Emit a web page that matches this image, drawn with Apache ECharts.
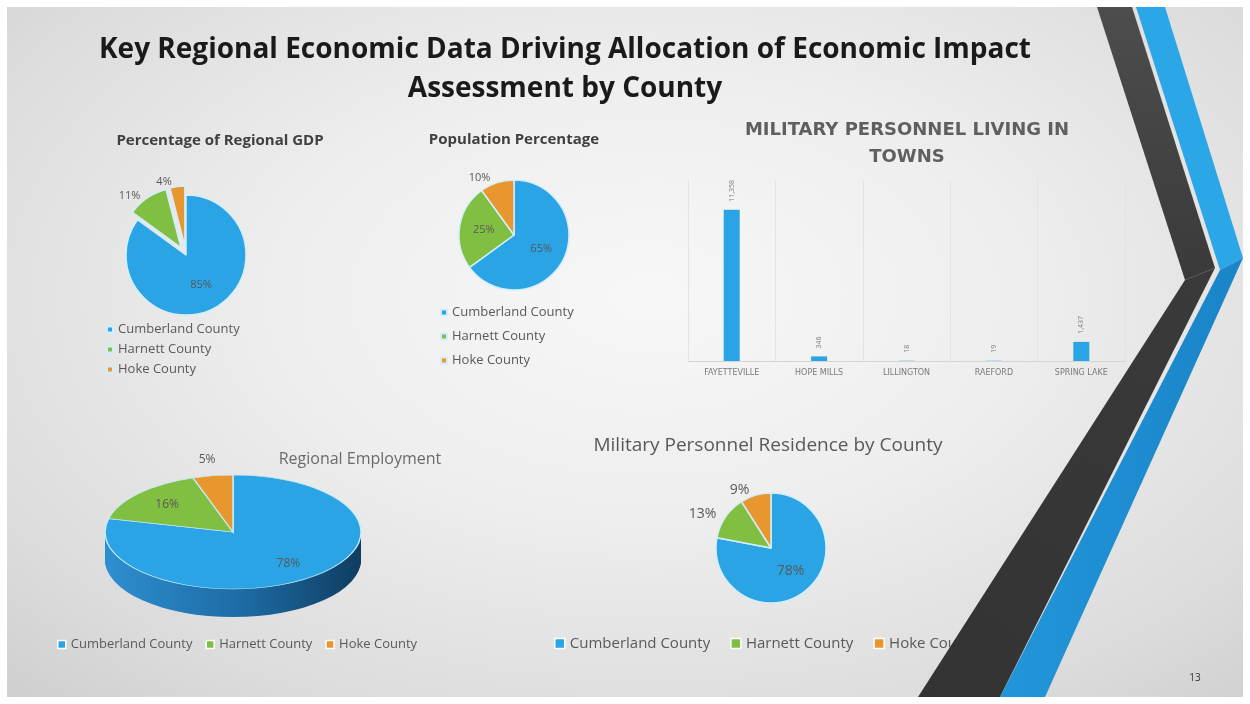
<!DOCTYPE html>
<html>
<head>
<meta charset="utf-8">
<script src="https://cdn.jsdelivr.net/npm/echarts@6/dist/echarts.min.js"></script>
<style>
  html, body { margin:0; padding:0; background:#ffffff; }
  #slide { position:absolute; left:7px; top:7px; width:1236px; height:690px;
    background: radial-gradient(ellipse 75% 80% at 52% 42%, #f7f7f7 0%, #eeeeee 40%, #dcdcdc 80%, #cfcfcf 100%); }
  #chart { position:absolute; left:0; top:0; width:1250px; height:704px; }
</style>
</head>
<body>
<div id="slide"></div>
<div id="chart"></div>
<script>
// ---------- DATA ----------
const counties = ['Cumberland County', 'Harnett County', 'Hoke County'];
const gdpShare = [85, 11, 4];
const populationShare = [65, 25, 10];
const employmentShare = [78, 16, 5];
const militaryResidenceShare = [78, 13, 9];
const towns = ['FAYETTEVILLE', 'HOPE MILLS', 'LILLINGTON', 'RAEFORD', 'SPRING LAKE'];
const militaryInTowns = [11358, 346, 18, 19, 1437];

// ---------- STYLE ----------
const countyColors = ['#2aa4e4', '#80bf42', '#e8972f'];
const grayText = '#595959';
const labelFont = 'Open Sans';

const chart = echarts.init(document.getElementById('chart'), null, { renderer: 'canvas' });

function pieData(values, outsideFrom, selectSmall) {
  return values.map((v, i) => ({
    value: v,
    name: counties[i],
    selected: selectSmall ? i > 0 : false,
    itemStyle: { color: countyColors[i] },
    label: i >= outsideFrom ? { position: 'outside' } : { position: 'inside' }
  }));
}

function pieSeries(name, values, center, radius, outsideFrom, selectSmall, fontSize) {
  return {
    type: 'pie',
    name: name,
    center: center,
    radius: radius,
    startAngle: 90,
    clockwise: true,
    animation: false,
    selectedMode: selectSmall ? 'multiple' : false,
    selectedOffset: 9,
    emphasis: { scale: false },
    itemStyle: { borderColor: '#d3eefb', borderWidth: 1.5 },
    label: { show: true, formatter: '{c}%', fontFamily: labelFont, fontSize: fontSize, color: grayText },
    labelLine: { show: false, length: 5, length2: 0 },
    data: pieData(values, outsideFrom, selectSmall)
  };
}

// 3D elliptical pie (Regional Employment)
const emp = { cx: 233, cy: 532, r: 128, sy: 57 / 128, depth: 28 };
function empAngles(i) {
  const total = employmentShare.reduce((a, b) => a + b, 0);
  let cum = 0;
  for (let j = 0; j < i; j++) cum += employmentShare[j];
  const v = employmentShare[i];
  return [-Math.PI / 2 + 2 * Math.PI * cum / total, -Math.PI / 2 + 2 * Math.PI * (cum + v) / total];
}
function renderEmpSide(params, api) {
  const i = params.dataIndex;
  const [a0, a1] = empAngles(i);
  const sideGrad = new echarts.graphic.LinearGradient(-emp.r, 0, emp.r, 0, [
    { offset: 0, color: '#2e8fd0' }, { offset: 0.55, color: '#1d6aa3' }, { offset: 1, color: '#0f3d60' }
  ], true);
  const children = [];
  for (let d = 1; d <= emp.depth; d++) {
    children.push({
      type: 'sector',
      shape: { cx: 0, cy: d / emp.sy, r: emp.r, startAngle: a0, endAngle: a1, clockwise: true },
      style: { fill: sideGrad }
    });
  }
  return { type: 'group', x: emp.cx, y: emp.cy, scaleY: emp.sy, children: children };
}
function renderEmpTop(params, api) {
  const i = params.dataIndex;
  const v = api.value(0);
  const [a0, a1] = empAngles(i);
  const mid = (a0 + a1) / 2;
  const k = v < 10 ? 1.28 : 0.7;
  return {
    type: 'group',
    children: [
      {
        type: 'group', x: emp.cx, y: emp.cy, scaleY: emp.sy,
        children: [{
          type: 'sector',
          shape: { cx: 0, cy: 0, r: emp.r, startAngle: a0, endAngle: a1, clockwise: true },
          style: { fill: countyColors[i], stroke: '#c6ebfb', lineWidth: 1.5, strokeNoScale: true }
        }]
      },
      {
        type: 'text',
        x: emp.cx + Math.cos(mid) * emp.r * k,
        y: emp.cy + Math.sin(mid) * emp.r * emp.sy * k,
        style: { text: v + '%', fill: grayText, fontFamily: labelFont, fontSize: 12, align: 'center', verticalAlign: 'middle' }
      }
    ]
  };
}

function txt(text, x, y, size, weight, color, family) {
  return {
    type: 'text', x: x, y: y, z: 10,
    style: { text: text, fill: color, fontSize: size, fontWeight: weight, fontFamily: family, align: 'center', verticalAlign: 'middle' }
  };
}

function poly(points, fill, z) {
  return { type: 'polygon', z: z, silent: true, shape: { points: points }, style: { fill: fill } };
}

const option = {
  animation: false,
  textStyle: { fontFamily: labelFont },
  graphic: [
    txt('Key Regional Economic Data Driving Allocation of Economic Impact', 565, 50, 28, 'bold', '#1a1a1a', 'Open Sans'),
    txt('Assessment by County', 565, 89, 28, 'bold', '#1a1a1a', 'Open Sans'),
    txt('Percentage of Regional GDP', 220, 141, 15, 'bold', '#404040', 'Open Sans'),
    txt('Population Percentage', 514, 140, 15, 'bold', '#404040', 'Open Sans'),
    txt('MILITARY PERSONNEL LIVING IN', 907, 130, 18, 'bold', '#5f5f5f', 'DejaVu Sans'),
    txt('TOWNS', 907, 157, 18, 'bold', '#5f5f5f', 'DejaVu Sans'),
    txt('Regional Employment', 360, 459, 16, 'normal', '#6b6b6b', 'Open Sans'),
    txt('Military Personnel Residence by County', 768, 446, 19, 'normal', '#595959', 'Open Sans'),
    txt('13', 1195, 678, 10, 'normal', '#333333', 'Open Sans'),
    // decorative chevrons
    poly([[1097, 7], [1132, 7], [1215, 268], [1185, 280]],
      new echarts.graphic.LinearGradient(0, 0, 0, 1, [{ offset: 0, color: '#4d4d4d' }, { offset: 1, color: '#3a3a3a' }]), 100),
    poly([[1136, 7], [1165, 7], [1243, 258], [1220, 270]], '#2ba6e6', 100),
    poly([[1185, 280], [1215, 268], [1000, 697], [918, 697]],
      new echarts.graphic.LinearGradient(1, 0, 0, 1, [{ offset: 0, color: '#3a3a3a' }, { offset: 1, color: '#333333' }]), 101),
    poly([[1220, 270], [1243, 258], [1045, 697], [1000, 697]],
      new echarts.graphic.LinearGradient(0, 0, 1, 0, [{ offset: 0, color: '#2296da' }, { offset: 1, color: '#1a84c8' }]), 101)
  ],
  legend: [
    {
      data: counties, orient: 'vertical', left: 101, top: 318, itemWidth: 6, itemHeight: 6, itemGap: 7,
      icon: 'rect', textStyle: { fontSize: 13, color: grayText, fontFamily: labelFont }, selectedMode: false
    },
    {
      data: counties, orient: 'vertical', left: 435, top: 301, itemWidth: 6, itemHeight: 6, itemGap: 11,
      icon: 'rect', textStyle: { fontSize: 13, color: grayText, fontFamily: labelFont }, selectedMode: false
    },
    {
      data: counties, orient: 'horizontal', left: 52, top: 633, itemWidth: 8, itemHeight: 8, itemGap: 13,
      icon: 'rect', itemStyle: { borderColor: '#ffffff', borderWidth: 1.5 },
      textStyle: { fontSize: 13, color: grayText, fontFamily: labelFont }, selectedMode: false
    },
    {
      data: counties, orient: 'horizontal', left: 549, top: 631, itemWidth: 10, itemHeight: 10, itemGap: 20,
      icon: 'rect', itemStyle: { borderColor: '#ffffff', borderWidth: 1.5 },
      textStyle: { fontSize: 15, color: grayText, fontFamily: labelFont }, selectedMode: false
    }
  ],
  grid: { left: 688, top: 180, width: 437, height: 181, containLabel: false },
  xAxis: {
    type: 'category', data: towns, boundaryGap: true,
    axisLine: { lineStyle: { color: '#d4d4d4' } },
    axisTick: { show: false },
    splitLine: { show: true, lineStyle: { color: '#e3e3e3' } },
    axisLabel: { fontSize: 8, color: '#7a7a7a', margin: 8, fontFamily: 'DejaVu Sans' }
  },
  yAxis: { type: 'value', min: 0, max: 13600, show: false, splitLine: { show: false } },
  series: [
    pieSeries('Percentage of Regional GDP', gdpShare, [186, 255], 60, 1, true, 11),
    pieSeries('Population Percentage', populationShare, [514, 235], 55, 2, false, 11),
    pieSeries('Military Personnel Residence by County', militaryResidenceShare, [771, 548], 55, 1, false, 14),
    {
      type: 'custom', name: 'Regional Employment side', coordinateSystem: 'none',
      renderItem: renderEmpSide, data: employmentShare, silent: true, z: 2
    },
    {
      type: 'custom', name: 'Regional Employment', coordinateSystem: 'none',
      renderItem: renderEmpTop, data: employmentShare, silent: true, z: 3
    },
    {
      type: 'bar', name: 'Military Personnel Living in Towns', data: militaryInTowns, barWidth: 16,
      itemStyle: { color: '#2aa4e4' },
      label: {
        show: true, position: 'top', rotate: 90, align: 'left', verticalAlign: 'middle', distance: 8,
        fontSize: 7, color: '#808080',
        formatter: p => p.value.toLocaleString('en-US')
      }
    }
  ]
};
chart.setOption(option);
</script>
</body>
</html>
